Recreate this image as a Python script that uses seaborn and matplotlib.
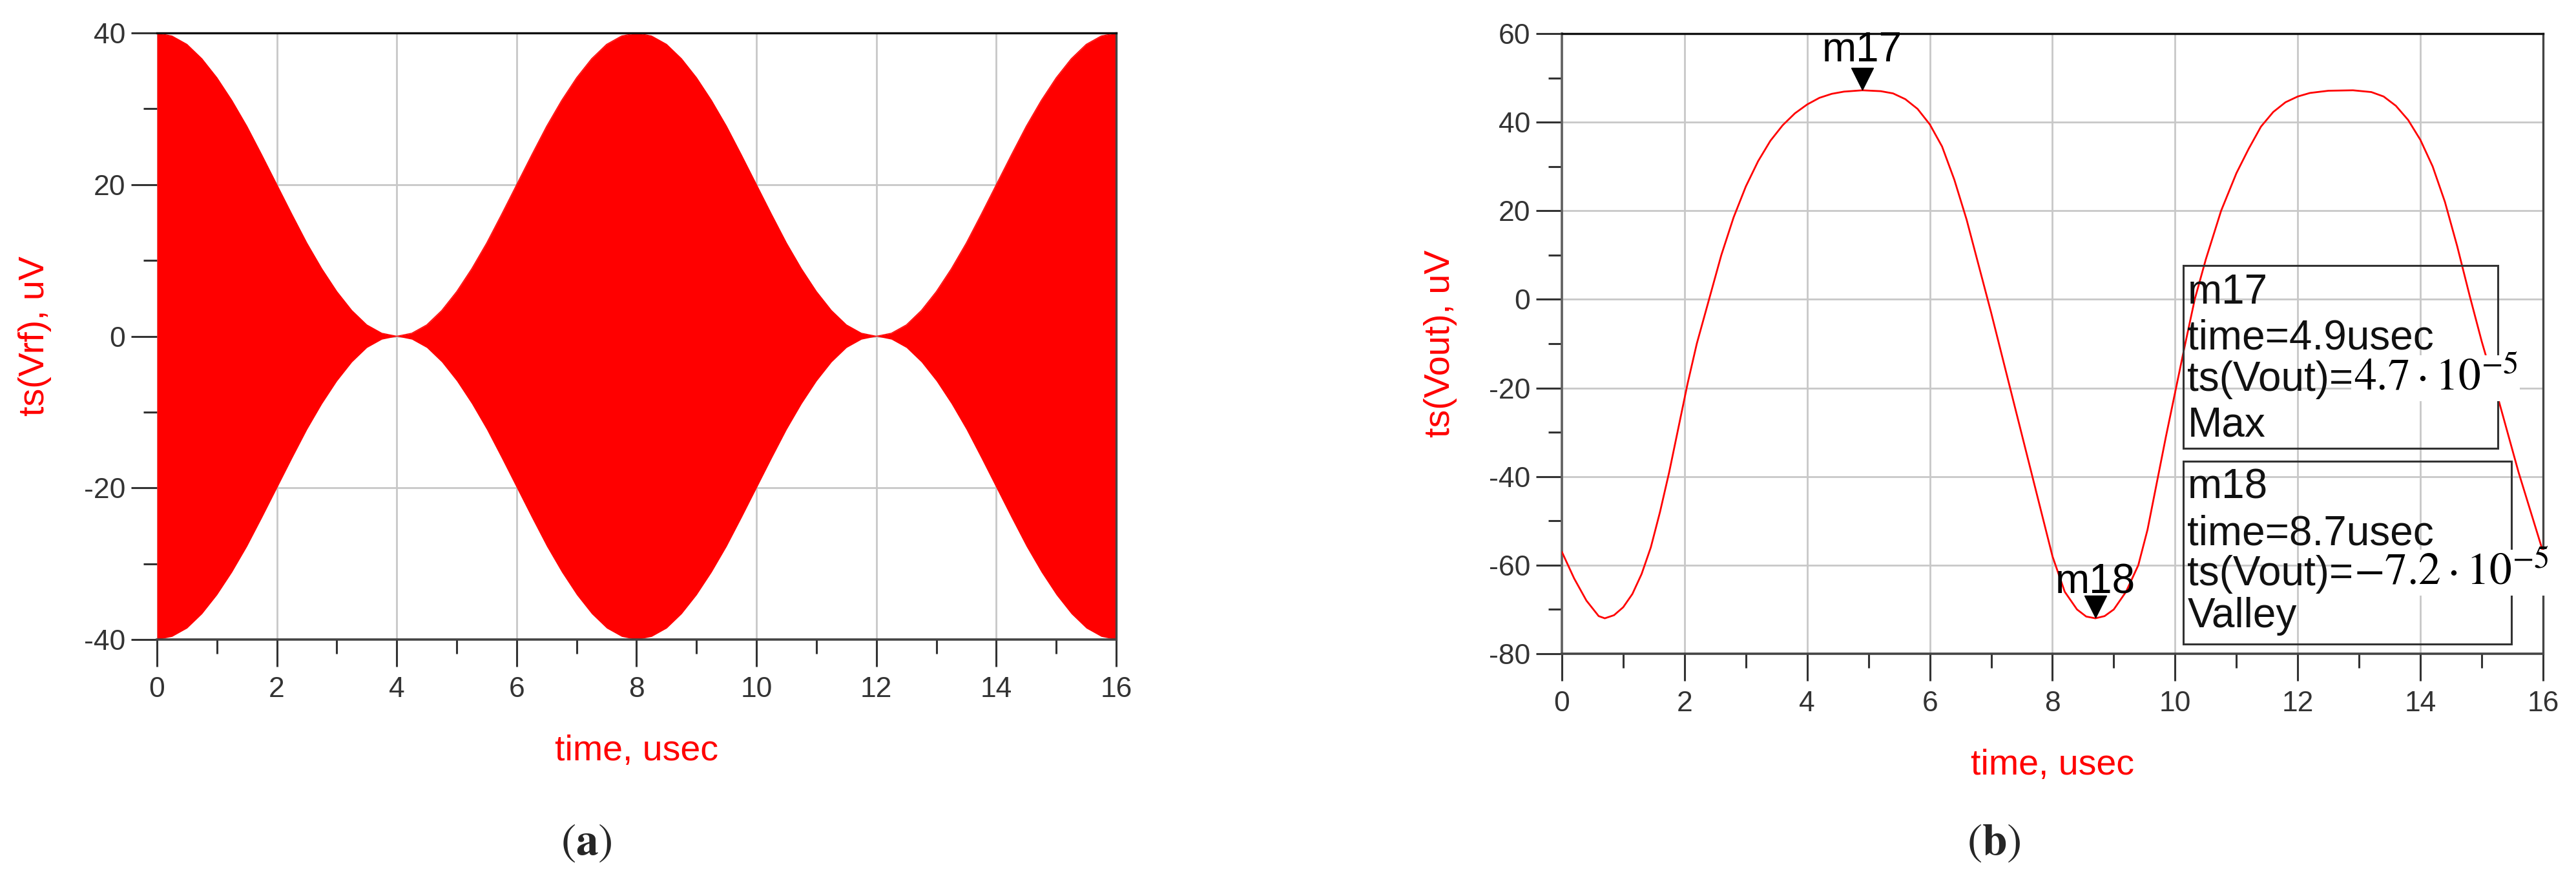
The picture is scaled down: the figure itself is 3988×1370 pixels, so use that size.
import numpy as np
import pandas as pd
import matplotlib
matplotlib.use("Agg")
import matplotlib.pyplot as plt
import seaborn as sns
from matplotlib.patches import Rectangle
from matplotlib.transforms import offset_copy
from matplotlib.ticker import MultipleLocator

# (a) RF signal: envelope of the dense carrier, read every 0.25 usec
rf_time = np.linspace(0, 16, 65)
rf_envelope = [40.0, 39.6, 38.5, 36.6, 34.1, 31.1, 27.7, 23.9, 20.0, 16.1, 12.3, 8.9, 5.9, 3.4, 1.5, 0.4, 0.0,
               0.4, 1.5, 3.4, 5.9, 8.9, 12.3, 16.1, 20.0, 23.9, 27.7, 31.1, 34.1, 36.6, 38.5, 39.6, 40.0,
               39.6, 38.5, 36.6, 34.1, 31.1, 27.7, 23.9, 20.0, 16.1, 12.3, 8.9, 5.9, 3.4, 1.5, 0.4, 0.0,
               0.4, 1.5, 3.4, 5.9, 8.9, 12.3, 16.1, 20.0, 23.9, 27.7, 31.1, 34.1, 36.6, 38.5, 39.6, 40.0]

# (b) demodulated output
vout_time = [0.0, 0.2, 0.4, 0.6, 0.7, 0.85, 1.0, 1.15, 1.3, 1.45, 1.6, 1.75, 1.9, 2.05, 2.2, 2.4,
             2.6, 2.8, 3.0, 3.2, 3.4, 3.6, 3.8, 4.0, 4.2, 4.4, 4.6, 4.9, 5.2, 5.4, 5.6, 5.8,
             6.0, 6.2, 6.4, 6.6, 6.8, 7.0, 7.2, 7.4, 7.6, 7.8, 8.0, 8.2, 8.4, 8.55, 8.7, 8.85,
             9.0, 9.2, 9.4, 9.55, 9.7, 9.85, 10.0, 10.15, 10.32, 10.5, 10.75, 11.0, 11.2, 11.4,
             11.6, 11.8, 12.0, 12.2, 12.5, 12.9, 13.2, 13.4, 13.6, 13.8, 14.0, 14.2, 14.4, 14.6,
             14.8, 15.0, 15.2, 15.4, 15.6, 15.8, 16.0]
vout_uv = [-57, -63, -68, -71.5, -72, -71.3, -69.5, -66.5, -62, -56, -48, -39, -29, -19, -10, 0,
           10, 18.5, 25.5, 31.2, 35.8, 39.3, 42, 44, 45.5, 46.4, 46.9, 47.2, 47.0, 46.5, 45.2, 43,
           39.5, 34.5, 27, 18, 7.5, -3, -14, -25, -36, -47, -58, -66, -70, -71.6, -72, -71.5,
           -70, -66, -60, -52, -41.5, -31, -21, -11, 0, 9, 20, 28.5, 34, 39,
           42.3, 44.5, 45.8, 46.6, 47.1, 47.2, 46.8, 45.8, 43.7, 40.5, 36, 30, 22, 12,
           1, -9.5, -19, -29, -39, -48, -57]

marker_names = ["m17", "m18"]
marker_time = [4.9, 8.7]
marker_value = [47.2, -72.0]
marker_readout = ["4.7", "-7.2"]
marker_kind = ["Max", "Valley"]

rf = pd.DataFrame({"t": rf_time, "env": rf_envelope})
vout = pd.DataFrame({"t": vout_time, "v": vout_uv})

sns.set_style("white")
plt.rcParams["font.family"] = ["Liberation Sans", "DejaVu Sans"]
plt.rcParams["mathtext.fontset"] = "stix"
plt.rcParams["axes.unicode_minus"] = False

RED = "#ff0000"
GRID = "#c8c8c8"
TICK = "#333333"

fig = plt.figure(figsize=(39.88, 13.70), dpi=100)
ax1 = fig.add_axes([0.06093, 0.27737, 0.37237, 0.68540])
ax2 = fig.add_axes([0.60632, 0.26131, 0.38089, 0.70073])


def style_axes(ax, ylim, ystep):
    ax.set_xlim(0, 16)
    ax.set_ylim(*ylim)
    ax.xaxis.set_major_locator(MultipleLocator(2))
    ax.xaxis.set_minor_locator(MultipleLocator(1))
    ax.yaxis.set_major_locator(MultipleLocator(ystep))
    ax.yaxis.set_minor_locator(MultipleLocator(ystep / 2))
    ax.set_axisbelow(True)
    ax.grid(True, which="major", color=GRID, lw=2.0)
    ax.tick_params(which="both", bottom=True, left=True, top=False, right=False,
                   direction="out")
    ax.tick_params(axis="x", which="major", length=30, width=2.2, pad=11,
                   color=TICK, labelcolor=TICK, labelsize=32)
    ax.tick_params(axis="x", which="minor", length=16, width=2.2, color=TICK)
    ax.tick_params(axis="y", which="major", length=29, width=2.2, pad=6,
                   color=TICK, labelcolor=TICK, labelsize=32)
    ax.tick_params(axis="y", which="minor", length=15, width=2.2, color=TICK)
    ax.spines["top"].set_color("#111111")
    ax.spines["top"].set_linewidth(2.4)
    ax.spines["bottom"].set_color("#444444")
    ax.spines["bottom"].set_linewidth(2.6)
    ax.spines["right"].set_color("#444444")
    ax.spines["right"].set_linewidth(2.4)
    ax.spines["left"].set_color("#606060")
    ax.spines["left"].set_linewidth(2.6)


# ---- (a) ----
style_axes(ax1, (-40, 40), 20)
ax1.fill_between(rf["t"], -rf["env"], rf["env"], color=RED, lw=0, zorder=1)
sns.lineplot(data=rf, x="t", y="env", ax=ax1, color=RED, lw=1, zorder=1)
ax1.spines["left"].set_visible(False)
ax1.set_xlabel("time, usec", color=RED, fontsize=40, va="center")
ax1.set_ylabel("ts(Vrf), uV", color=RED, fontsize=40, va="center")
ax1.xaxis.set_label_coords(0.5, -0.184)
ax1.yaxis.set_label_coords(-0.127, 0.5)

# ---- (b) ----
style_axes(ax2, (-80, 60), 20)
sns.lineplot(data=vout, x="t", y="v", ax=ax2, color=RED, lw=2.0, zorder=3)
ax2.set_xlabel("time, usec", color=RED, fontsize=40, va="center")
ax2.set_ylabel("ts(Vout), uV", color=RED, fontsize=40, va="center")
ax2.xaxis.set_label_coords(0.5, -0.180)
ax2.yaxis.set_label_coords(-0.1238, 0.5)

# markers: triangle tip sits on the curve, name above
tri_tf = offset_copy(ax2.transData, fig=fig, x=0, y=13, units="points")
label_off = [32, 28]
for name, t, v, off in zip(marker_names, marker_time, marker_value, label_off):
    ax2.plot([t], [v], marker="v", ms=25, color="black", transform=tri_tf,
             zorder=5, clip_on=False)
    ax2.annotate(name, xy=(t, v), xytext=(0, off), textcoords="offset points",
                 ha="center", va="baseline", fontsize=46, color="black", zorder=6)

# readout boxes
boxes = [(10.13, -33.6, 5.13, 41.2), (10.13, -77.8, 5.35, 41.3)]
baselines = [(-1.0, -11.2, -20.6, -30.9), (-44.9, -55.4, -64.5, -74.0)]
for i in range(2):
    bx, by, bw, bh = boxes[i]
    ax2.add_patch(Rectangle((bx, by), bw, bh, fill=False, ec="#333333", lw=2.2, zorder=4))
    b = baselines[i]
    kw = dict(ha="left", va="baseline", fontsize=46, color="#111111", zorder=6)
    ax2.text(10.2, b[0], marker_names[i], **kw)
    ax2.text(10.2, b[1], "time=%susec" % marker_time[i], **kw)
    t1 = ax2.text(10.2, b[2], "ts(Vout)=", **kw)
    ax2.annotate(r"$%s\cdot10^{-5}$" % marker_readout[i], xy=(1, 0), xycoords=t1,
                 ha="left", va="bottom", fontsize=50, color="black", zorder=7,
                 bbox=dict(boxstyle="square,pad=0.05", fc="white", ec="none"))
    ax2.text(10.2, b[3], marker_kind[i], **kw)

fig.text(0.2277, 0.0474, r"$(\mathbf{a})$", ha="center", va="center", fontsize=50)
fig.text(0.7741, 0.0474, r"$(\mathbf{b})$", ha="center", va="center", fontsize=50)

fig.savefig("out.png", dpi=100, facecolor="white")
